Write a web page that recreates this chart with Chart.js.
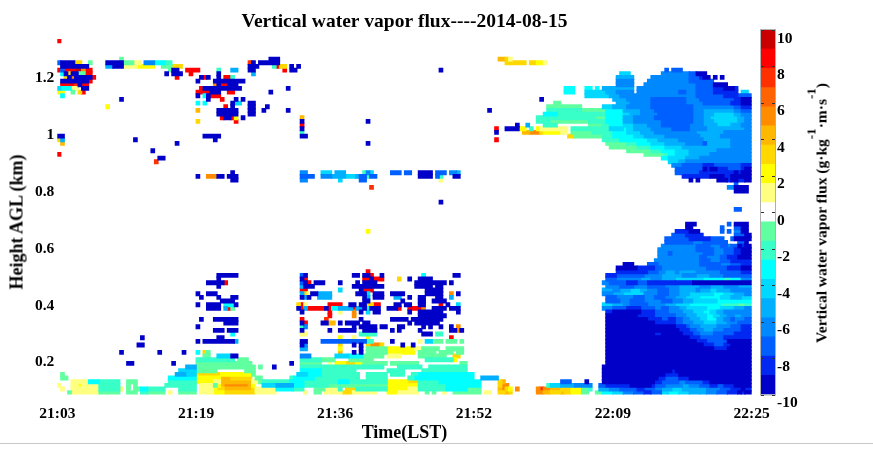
<!DOCTYPE html>
<html>
<head>
<meta charset="utf-8">
<title>Vertical water vapor flux</title>
<script src="https://cdn.jsdelivr.net/npm/chart.js@4"></script>
<style>
body { margin: 0; background: #fff; }
#page { position: relative; width: 873px; height: 450px; overflow: hidden; }
#main { position: absolute; left: 0; top: 0; }
#bar { position: absolute; left: 755px; top: 0; }
#heightLabel { position: absolute; left: 17px; top: 222px; white-space: nowrap;
    font: bold 18px "Liberation Serif"; color: #000;
    transform: translate(-50%, -50%) rotate(-90deg); }
#barLabel { position: absolute; left: 821px; top: 213px; white-space: nowrap;
    font: bold 15.5px "Liberation Serif"; color: #000;
    transform: translate(-50%, -50%) rotate(-90deg); }
#barLabel sup { font-size: 13px; line-height: 0; vertical-align: 11px; }
#rule { position: absolute; left: 0; top: 443px; width: 873px; height: 1px; background: #c8c8c8; }
</style>
</head>
<body>
<div id="page">
    <canvas id="main" width="873" height="450"></canvas>
    <canvas id="bar" width="118" height="450"></canvas>
    <div id="heightLabel">Height AGL (km)</div>
    <div id="barLabel">Vertical water vapor flux (g·kg<sup>-1</sup>·m·s<sup>-1</sup>)</div>
    <div id="rule"></div>
</div>
<script>
// each cell is a letter = one colour level of the flux, a..s from -10 to 10
const levelLetters = "abcdefghijklmnopqrs";
const levelEdges = [-10, -8.95, -7.89, -6.84, -5.79, -4.74, -3.68, -2.63, -1.58, -0.53,
    0.53, 1.58, 2.63, 3.68, 4.74, 5.79, 6.84, 7.89, 8.95, 10];
const levelColors = ["#0000c8", "#0028f0", "#0060ff", "#0088ff", "#00b0ff", "#00d8ff", "#00ffff",
    "#38ffc8", "#60ffa0", "#ffffff", "#ffff80", "#ffff00", "#ffd800", "#ffb800", "#ff8c00",
    "#ff6400", "#ff3000", "#ff0000", "#c80000"];

const timeLabels = ["21:03", "21:19", "21:36", "21:52", "22:09", "22:25"];
const timeColumns = [0, 40, 80, 120, 160, 200];
const heightTicks = [0.2, 0.4, 0.6, 0.8, 1, 1.2];
const barTicks = [-10, -8, -6, -4, -2, 0, 2, 4, 6, 8, 10];

// one string per height row, bottom row first: a number jumps to that column,
// then letter+count gives the run of cells from there
const lowRows = [
    "3 i1 k8 i6 20 i3 24 h2 i5 32 k1 35 i5 41 k4 l3 m9 k6 71 k1 74 i2 77 k5 m3 k7 95 l3 k6 106 i1 108 i1 111 k1 114 i8 123 k2 127 m2 n1 m1 138 o2 n2 m3 n1 m2 l3 i2 155 i2 g3 f3 d3 c3 b2 c3 f2 g3 f3 e3 e2 d3 c3 b3 a1 b1 a2",
    "1 k1 4 k8 h6 k1 20 i1 22 i2 g2 h5 35 h5 41 k4 l1 m2 n8 m1 k6 g5 h3 74 i3 k4 h1 83 m3 h9 l6 k3 h8 g6 i4 127 n1 o1 m1 l1 132 o1 138 o1 q1 o2 n3 m3 l3 i2 h1 156 e3 d3 c5 b2 c3 d2 e3 f3 e2 e5 d4 c3 b3 a1 b2",
    "0 k1 4 k2 l1 k5 h6 20 i1 22 i1 31 h9 41 k4 i1 l1 n1 o7 n1 l1 59 f4 e5 g3 h7 i17 l9 h8 g10 127 m1 o2 141 h1 f3 e4 d5 156 c2 b7 a6 b1 c3 d5 e2 d3 c3 b2 c2 b3 a5",
    "4 k5 g3 h6 20 i3 32 h8 l5 k2 n9 k2 i1 h8 g4 h10 g3 h11 l6 m3 h6 g12 127 m1 n1 145 c3 152 a1 157 a15 b2 c5 d2 c5 b2 a12",
    "1 i2 32 g8 l7 n3 m6 57 i2 67 h1 g6 h13 89 h6 101 h2 g17 122 e5 157 a16 b2 c4 b3 a18",
    "1 i1 34 e3 f3 m7 l9 i1 69 f3 g4 h11 89 h6 96 h4 102 h2 g16 157 a18 b4 a21",
    "35 f5 i6 54 i3 70 g6 h10 95 h5 105 h13 157 a20 b1 a22",
    "37 e3 i17 58 i1 62 a1 70 h6 h18 98 h7 107 h11 157 a43",
    "20 a2 33 a1 40 i16 67 a1 70 i6 78 k1 80 l3 m3 l2 i7 96 i8 116 i2 158 a42",
    "40 h11 52 i3 70 h6 i4 84 i7 106 h8 l1 158 a42",
    "42 i2 46 f4 a2 70 d3 80 f4 g4 i6 95 k4 104 i8 114 m2 158 a42",
    "18 a1 29 a1 36 a1 40 g1 42 m1 i1 81 n1 85 a1 87 a1 89 i6 l8 104 i5 110 i4 115 i2 158 a42",
    "70 e2 81 l1 87 a1 89 i6 l8 k2 i5 112 i5 158 a31 b4 a7",
    "23 a2 70 a1 d1 81 m1 85 a1 87 a1 89 m1 o3 m1 99 a1 102 a1 158 a28 b3 c3 b2 a6",
    "40 a1 42 a9 e1 70 a2 76 c13 h2 96 a1 104 k1 106 f2 i3 112 i3 116 i1 158 a26 b3 c4 c2 a7",
    "24 a1 46 a2 81 l1 85 k1 89 l1 113 r1 158 a24 b3 c5 c2 b8",
    "50 g1 70 k2 87 h5 105 a3 109 h2 158 a14 b2 a6 b3 c2 d4 c6 b5",
    "45 a3 49 a3 70 a1 78 a1 81 a5 88 a4 96 a1 98 a1 104 a1 113 a2 o1 a1 158 a21 b3 c2 d2 e3 d3 c2 c3 b3",
    "40 a1 70 h1 d1 85 a1 87 a5 93 a2 98 a2 105 a1 107 a1 110 a1 113 a1 115 o1 158 a20 b3 c1 d3 e5 d4 c3 b3",
    "48 a4 70 a1 r1 76 a2 n2 81 a1 83 a4 88 a2 101 a1 103 a7 158 a14 b6 c2 d3 e3 f4 e3 d3 c4",
    "41 a1 45 a7 70 r1 77 q1 87 a1 96 a5 102 a9 158 a12 b4 c2 b2 c2 d2 e3 f2 g3 e2 d2 c1 d3 c2",
    "78 r1 85 o1 104 a8 158 a9 b5 c6 d3 e3 f3 g2 f2 e2 d2 e2 d3",
    "70 a1 78 r1 81 k1 85 o1 87 a1 89 f1 91 a2 101 a1 104 a7 115 a1 158 b2 a8 b4 c4 d4 e3 f3 g2 f2 e2 d8",
    "43 a4 48 e1 r1 i1 69 a1 r1 e1 r5 a1 r1 g2 e4 r1 e2 a1 g1 a3 95 a3 r1 101 r4 o1 108 a4 113 a3 157 d3 c4 b2 b2 c4 d2 c2 d3 e2 f3 f3 g4 f4 e3 d2",
    "40 a1 43 a4 48 g3 a1 69 m1 r1 k1 78 r4 84 a2 87 a2 m2 r2 97 a2 100 a2 104 a2 110 r1 112 a1 115 f1 157 f3 e3 d2 c5 d5 e3 f2 f2 g5 g4 h5 i2 h2",
    "47 a4 88 a2 99 a1 104 a2 108 a4 158 c4 d3 c4 d5 c3 d3 e3 f4 f3 g4 g6",
    "41 a1 46 a1 50 a2 70 a1 e1 a1 75 e4 88 a1 e1 91 a3 97 e2 101 a1 104 a2 109 a2 113 e1 158 c3 d5 c3 d3 c3 d3 e3 f4 g6 f3 e3 f3",
    "40 a1 43 a3 70 e1 m1 k1 a2 e4 86 a3 f1 91 a3 96 a4 106 a5 113 o1 115 a1 157 d3 e3 f6 d4 c3 d3 e3 f3 f4 g3 f3 e3 d2",
    "70 r2 81 f1 87 a1 r3 106 a5 157 e3 d2 e3 f3 e2 d3 c3 d3 e3 e2 d1 e3 f2 e4 d6",
    "46 a1 70 e1 a3 85 a9 103 a5 109 a2 158 d4 c4 d4 c5 d4 e6 d3 e4 d4 e4",
    "43 a5 r1 70 c1 a1 r1 74 a3 81 a1 86 a1 88 a4 103 a9 113 a1 157 d2 c5 b3 c3 b8 b5 a17",
    "46 a1 70 a1 r1 88 r2 a1 r3 98 m1 101 a1 104 a4 158 c3 d7 e3 d3 e4 f5 f3 g6 h2 g3 d3",
    "46 a6 70 c1 a1 85 a2 88 a2 r1 93 a1 105 g1 114 a2 158 b3 c8 d5 e6 d4 e4 d4 c8",
    "89 r1 161 b9 c3 d2 e3 d1 e5 d7 c6 b3"
];
const midRows = [
    "161 a6 b5 c2 d6 d7 c4 c2 b4 a3",
    "163 a3 170 c3 d12 c6 d3 c3 b3",
    "172 d13 c3 d3 c3 b6",
    "173 d12 c2 d4 c2 b3 a4",
    "173 d3 c1 d9 c3 d3 c3 b2 a3",
    "173 d11 c5 d3 c3 b2 a3",
    "174 d10 c4 d3 c2 d1 c2 a1 b1 a2",
    "175 c8 d3 c7 196 c2 a1",
    "175 c7 b6 c4 194 c1 a5",
    "177 c4 b5 195 c3 a2",
    "89 l1 178 b4 a3 191 c1 193 c1 195 d2 a2",
    "181 a2 191 c1 195 c2 a2",
    "181 a3 193 c1 195 a4",
    "",
    "",
    "",
    "195 c2",
    "",
    "110 a1",
    "",
    "",
    "195 a4",
    "90 q1 193 d2 a4",
    "195 c1",
    "50 a2 70 d2 81 f1 87 c2 110 k1 182 a1 184 a1 190 a3 b1 a2 b2 a2",
    "40 a1 43 o3 a2 49 a3 70 c4 76 d3 e4 f3 e1 c2 h1 c2 104 a4 109 c1 h1 114 a2 180 b8 a4 b2 a6",
    "50 a1 70 d2 76 f3 80 e3 88 h1 d1 f1 96 c3 100 c2 104 a4 109 c3 113 d2 e1 178 c7 b5 b5 a1 b1 a3",
    "178 c8 a1 b1 a2 b3 c4 b1 a2",
    "177 d3 c6 b3 c3 c5 b3",
    "28 q1 176 f3 e2 d5 d14",
    "29 a2 174 g2 f5 e4 d15",
    "0 r1 169 i6 h1 g2 f4 e6 d12",
    "27 a1 164 i7 h3 g4 f4 e8 d10",
    "159 i8 h4 g4 f5 e6 e8 d6",
    "1 n1 34 a1 89 a1 158 i6 h3 g4 f4 e6 d5 c1 e7 d6",
    "0 m1 e1 22 a1 45 a1 126 r1 157 h5 g8 f3 e6 d7 e8 d6"
];
const highRows = [
    "0 a2 42 a5 70 a2 147 m2 i8 h3 g6 f3 e6 d10 e6 d9",
    "70 h1 126 a1 134 n2 o3 m1 l5 k2 148 i6 h6 g4 f4 e4 d8 d4 e8 d8",
    "70 a1 126 r1 129 a4 l2 136 h1 138 l1 k8 148 h11 f4 g1 f2 e5 d6 c5 d5 e5 e6 d2",
    "70 r1 132 a1 135 e1 140 h4 153 i4 h2 g4 f3 e4 d4 c8 d4 e4 f4 e3 d3",
    "40 m1 51 r1 70 a1 89 a1 138 h4 i11 h5 g5 e3 d5 d3 c9 d3 e3 f7 e2 d2",
    "47 r1 a2 r1 l1 53 a1 70 n1 138 h17 i3 g5 e3 d6 c11 d3 e2 f8 e2 d2",
    "46 a6 55 a2 140 g4 h14 g5 f2 e3 d5 c10 d3 e3 f6 e2 d3",
    "40 n1 46 a6 55 a2 59 a1 66 a1 124 a1 141 h10 i7 g5 e5 d4 c11 d3 e9 d2 c3",
    "14 l1 48 r1 50 a1 55 a2 60 a1 141 i10 157 f3 e4 d7 c12 d4 d8 c2 b3",
    "40 g1 42 g1 50 a1 f2 55 a2 143 i2 161 e4 d6 c10 d5 c8 b3 a3",
    "18 a1 43 a1 47 r1 51 a1 53 a1 139 a1 160 e4 d7 c10 d4 c10 b2 a3",
    "1 g1 40 a1 42 g1 a1 r3 152 f7 e3 d5 167 d17 c8 b4 c4",
    "0 l2 4 i1 6 m1 r1 40 r4 a3 49 r2 61 a1 146 g3 152 f6 e3 d5 167 d12 c2 d3 c5 b7 197 f2",
    "0 f1 g3 k2 7 a2 41 r1 a11 66 a1 146 g3 152 g2 155 g1 157 e9 167 d17 c5 b3 a3 b1",
    "1 r4 q1 a1 r2 45 o1 a1 r2 a3 161 d5 169 d15 c5 a4",
    "1 a8 r1 40 a1 45 a9 161 d5 170 d12 c5 c2",
    "2 m1 a1 o1 a5 r1 34 r1 41 a1 r1 a1 46 a1 48 r2 h1 161 e5 171 d11 c3 b1 a2 189 a1 191 a1",
    "1 g1 a1 m1 a2 6 i2 r2 31 a1 33 a3 38 r1 46 a1 56 e1 162 f3 174 d8 c2 a3",
    "0 r1 c1 r3 s2 o1 r2 32 i1 a2 37 r4 46 h1 50 e2 55 a2 65 r1 67 a2 110 a1 175 c1 177 c3",
    "1 a8 14 e2 a3 k4 l5 30 i3 m3 55 a3 62 h1 r1 m2 67 a1 69 a1",
    "0 c1 a4 m2 9 i1 14 a5 i3 k2 25 d3 g3 h2 55 q1 a1 58 a6 129 m6 136 m2 l2 k1",
    "18 i1 61 a3 127 n2 m1 k1",
    "",
    "",
    "",
    "",
    "0 r1"
];

// height of the lowest row and the range gate spacing, km
const firstGate = 0.0937;
const gateStep = 0.01288;

function buildDatasets() {
    const sets = levelColors.map(function (color, i) {
        return {
            label: String(levelEdges[i]),
            data: [],
            backgroundColor: color,
            grouped: false,
            categoryPercentage: 1,
            barPercentage: 1,
            inflateAmount: 0.6,
        };
    });
    lowRows.concat(midRows, highRows).forEach(function (row, r) {
        let col = 0;
        row.split(" ").forEach(function (tok) {
            if (!tok) return;
            if (/^\d+$/.test(tok)) {
                col = Number(tok);
                return;
            }
            const n = Number(tok.slice(1));
            sets[levelLetters.indexOf(tok[0])].data.push({
                x: [col, col + n],
                y: firstGate + r * gateStep,
            });
            col += n;
        });
    });
    return sets;
}

const serif = "'Liberation Serif'";

new Chart(document.getElementById("main").getContext("2d"), {
    type: "bar",
    data: { datasets: buildDatasets() },
    options: {
        indexAxis: "y",
        responsive: false,
        animation: false,
        layout: { padding: { left: 0, right: 121.3, top: 0, bottom: 0 } },
        plugins: {
            legend: { display: false },
            tooltip: { enabled: false },
            title: {
                display: true,
                fullSize: false,
                text: "Vertical water vapor flux----2014-08-15",
                color: "#000",
                font: { family: serif, size: 19.5, weight: "bold" },
                padding: { top: 10.5, bottom: 5 },
            },
        },
        scales: {
            x: {
                type: "linear",
                min: 0,
                max: 200,
                offset: false,
                grid: { display: false, drawTicks: false },
                border: { display: false },
                afterBuildTicks: function (scale) {
                    scale.ticks = timeColumns.map(function (v) { return { value: v }; });
                },
                afterFit: function (scale) { scale.height = 55.5; },
                ticks: {
                    autoSkip: false,
                    maxRotation: 0,
                    padding: 10,
                    color: "#000",
                    font: { family: serif, size: 15.5, weight: "bold" },
                    callback: function (v) { return timeLabels[timeColumns.indexOf(v)]; },
                },
                title: {
                    display: true,
                    text: "Time(LST)",
                    color: "#000",
                    font: { family: serif, size: 18, weight: "bold" },
                    padding: { top: 0, bottom: 6 },
                },
            },
            y: {
                type: "linear",
                min: 0.0874,
                max: 1.3367,
                offset: false,
                grid: { display: false, drawTicks: false },
                border: { display: false },
                afterBuildTicks: function (scale) {
                    scale.ticks = heightTicks.map(function (v) { return { value: v }; });
                },
                afterFit: function (scale) { scale.width = 57.3; },
                ticks: {
                    autoSkip: false,
                    padding: 3,
                    color: "#000",
                    font: { family: serif, size: 15.5, weight: "bold" },
                    callback: function (v) { return String(v); },
                },
            },
        },
    },
});

// small ticks inside the colour bar plus its thin frame
const barFrame = {
    id: "barFrame",
    afterDatasetsDraw: function (chart) {
        const ctx = chart.ctx;
        const a = chart.chartArea;
        ctx.save();
        ctx.strokeStyle = "#b0b0b0";
        ctx.lineWidth = 1;
        ctx.strokeRect(a.left - 0.5, a.top - 0.5, a.right - a.left + 1, a.bottom - a.top + 1);
        ctx.strokeStyle = "#333";
        barTicks.forEach(function (v) {
            const y = Math.round(chart.scales.y.getPixelForValue(v)) + 0.5;
            ctx.beginPath();
            ctx.moveTo(a.left, y);
            ctx.lineTo(a.left + 3, y);
            ctx.moveTo(a.right - 3, y);
            ctx.lineTo(a.right, y);
            ctx.stroke();
        });
        ctx.restore();
    },
};

new Chart(document.getElementById("bar").getContext("2d"), {
    type: "bar",
    data: {
        labels: [""],
        datasets: levelColors.map(function (color, i) {
            return {
                data: [[levelEdges[i], levelEdges[i + 1]]],
                backgroundColor: color,
                grouped: false,
                categoryPercentage: 1,
                barPercentage: 1,
            };
        }),
    },
    plugins: [barFrame],
    options: {
        responsive: false,
        animation: false,
        layout: { padding: { left: 6, right: 0, top: 30, bottom: 55.5 } },
        plugins: { legend: { display: false }, tooltip: { enabled: false } },
        scales: {
            x: { display: false },
            y: {
                position: "right",
                min: -10,
                max: 10,
                grid: { display: false, drawTicks: false },
                border: { display: false },
                afterBuildTicks: function (scale) {
                    scale.ticks = barTicks.map(function (v) { return { value: v }; });
                },
                afterFit: function (scale) { scale.width = 98; },
                ticks: {
                    autoSkip: false,
                    padding: 2,
                    labelOffset: 8.5,
                    color: "#000",
                    font: { family: serif, size: 15.5, weight: "bold" },
                },
            },
        },
    },
});
</script>
</body>
</html>
